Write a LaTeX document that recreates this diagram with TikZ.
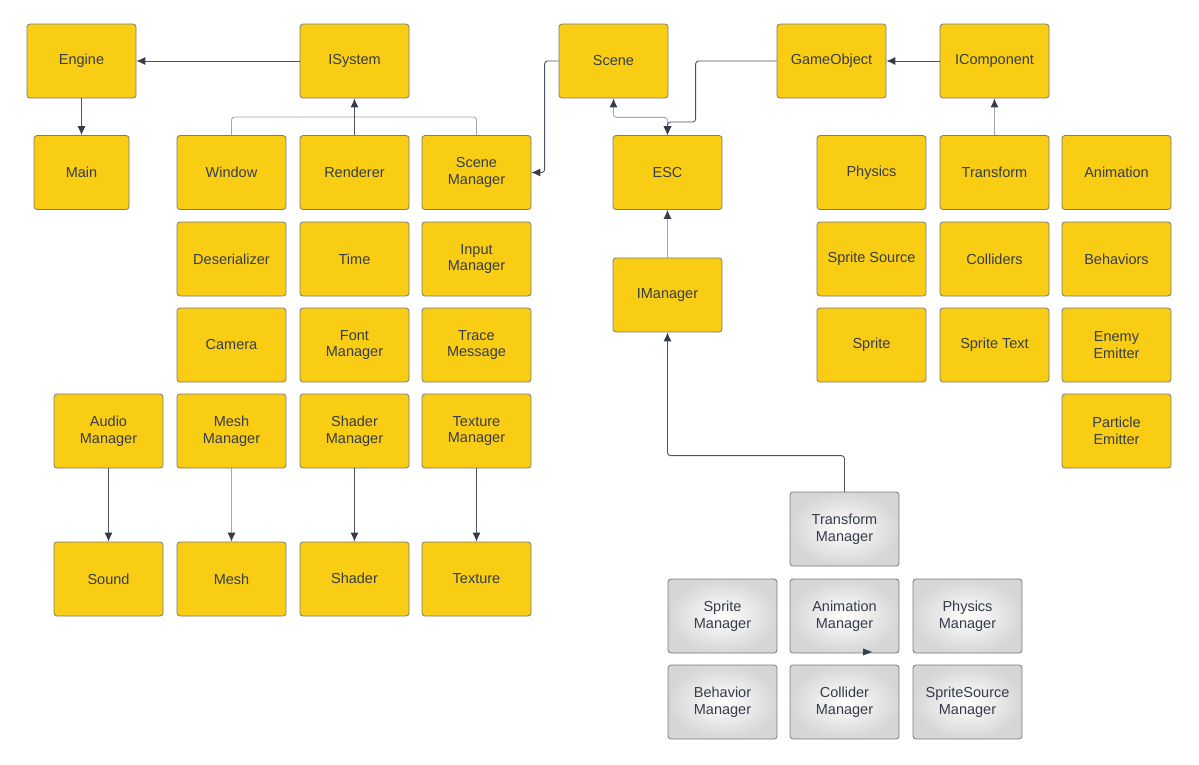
\documentclass[tikz,border=0pt]{standalone}
\usepackage{fontspec}
\setmainfont{Liberation Sans}
\usetikzlibrary{arrows.meta,calc}
\definecolor{boxy}{HTML}{F9CD14}
\definecolor{boxline}{HTML}{7A7A7A}
\definecolor{txt}{HTML}{363D48}
\definecolor{darkl}{HTML}{4B5260}
\definecolor{lightl}{HTML}{A3A7AD}
\definecolor{arrowc}{HTML}{363D48}
\begin{document}
\begin{tikzpicture}[x=1pt,y=-1pt,
  ybox/.style={draw=boxline,line width=0.8pt,fill=boxy,rounded corners=3pt,minimum width=109pt,minimum height=74pt,inner sep=0pt,align=center,text=txt,font=\fontsize{14.5pt}{16.5pt}\selectfont},
  gbox/.style={draw=boxline,line width=0.8pt,rounded corners=3pt,minimum width=109pt,minimum height=74pt,inner sep=0pt,align=center,text=txt,font=\fontsize{14.5pt}{16.5pt}\selectfont,inner color=white,outer color=black!16},
  conn/.style={draw=darkl,line width=0.9pt,rounded corners=3pt},
  lconn/.style={draw=lightl,line width=0.9pt,rounded corners=3pt},
  arr/.style={-{Latex[length=9pt,width=8pt,color=arrowc]}},
  barr/.style={{Latex[length=9pt,width=8pt,color=arrowc]}-{Latex[length=9pt,width=8pt,color=arrowc]}}
]
\useasboundingbox (0,0) rectangle (1199,764);
\fill[white] (0,0) rectangle (1199,764);
% row 0
\node[ybox] (engine) at (81.5,61) {Engine};
\node[ybox] (isys) at (354.5,61) {ISystem};
\node[ybox] (scene) at (613.5,61) {Scene};
\node[ybox] (go) at (831.5,61) {GameObject};
\node[ybox] (icomp) at (994.5,61) {IComponent};
% row 1
\node[ybox,minimum width=95pt] (main) at (81.5,172.5) {Main};
\node[ybox] (window) at (231.5,172.5) {Window};
\node[ybox] (rend) at (354.5,172.5) {Renderer};
\node[ybox] (scmgr) at (476.5,172.5) {Scene\\Manager};
\node[ybox] (esc) at (667.5,172.5) {ESC};
\node[ybox] (phys) at (871.5,172.5) {Physics};
\node[ybox] (trans) at (994.5,172.5) {Transform};
\node[ybox] (anim) at (1116.5,172.5) {Animation};
% row 2
\node[ybox] (deser) at (231.5,259) {Deserializer};
\node[ybox] (time) at (354.5,259) {Time};
\node[ybox] (input) at (476.5,259) {Input\\Manager};
\node[ybox] (imgr) at (667.5,295) {IManager};
\node[ybox] (spsrc) at (871.5,259) {Sprite Source};
\node[ybox] (coll) at (994.5,259) {Colliders};
\node[ybox] (behav) at (1116.5,259) {Behaviors};
% row 3
\node[ybox] (cam) at (231.5,345) {Camera};
\node[ybox] (font) at (354.5,345) {Font\\Manager};
\node[ybox] (trace) at (476.5,345) {Trace\\Message};
\node[ybox] (sprite) at (871.5,345) {Sprite};
\node[ybox] (sptext) at (994.5,345) {Sprite Text};
\node[ybox] (enemy) at (1116.5,345) {Enemy\\Emitter};
% row 4
\node[ybox] (audio) at (108.5,431) {Audio\\Manager};
\node[ybox] (meshm) at (231.5,431) {Mesh\\Manager};
\node[ybox] (shadm) at (354.5,431) {Shader\\Manager};
\node[ybox] (texm) at (476.5,431) {Texture\\Manager};
\node[ybox] (part) at (1116.5,431) {Particle\\Emitter};
% row 5
\node[ybox] (sound) at (108.5,579) {Sound};
\node[ybox] (mesh) at (231.5,579) {Mesh};
\node[ybox] (shader) at (354.5,579) {\raisebox{2pt}{Shader}};
\node[ybox] (tex) at (476.5,579) {Texture};
% grey managers
\node[gbox] (tmgr) at (844.5,529) {Transform\\Manager};
\node[gbox] (smgr) at (722.5,616) {Sprite\\Manager};
\node[gbox] (amgr) at (844.5,616) {Animation\\Manager};
\node[gbox] (pmgr) at (967.5,616) {Physics\\Manager};
\node[gbox] (bmgr) at (722.5,702) {Behavior\\Manager};
\node[gbox] (cmgr) at (844.5,702) {Collider\\Manager};
\node[gbox] (ssmgr) at (967.5,702) {SpriteSource\\Manager};
% connectors
\coordinate (j1) at (354.5,117);
\draw[conn,arr] (isys.west) -- (engine.east);
\draw[conn,arr] (engine.south) -- (main.north);
\draw[lconn] (window.north) |- (j1);
\draw[lconn] (scmgr.north) |- (j1);
\draw[conn,arr] (rend.north) -- (isys.south);
\draw[conn,arr] (scene.west) -- ++(-14,0) |- (scmgr.east);
\draw[lconn,barr] (scene.south) -- ++(0,19) -| (esc.north);
\draw[conn,arr] (go.west) -- ++(-81,0) -- ++(0,61) -| (esc.north);
\draw[conn,arr] (icomp.west) -- (go.east);
\draw[lconn,arr] (trans.north) -- (icomp.south);
\draw[lconn,arr] (imgr.north) -- (esc.south);
\draw[conn,arr] (tmgr.north) -- ++(0,-36) -| (imgr.south);
\draw[conn,arr] (audio.south) -- (sound.north);
\draw[lconn,arr] (meshm.south) -- (mesh.north);
\draw[conn,arr] (shadm.south) -- (shader.north);
\draw[conn,arr] (texm.south) -- (tex.north);
% stray arrowhead
\coordinate (sa) at (872,652);
\fill[arrowc] (sa) -- ++(-9,-3.5) -- ++(0,7) -- cycle;
\end{tikzpicture}
\end{document}
